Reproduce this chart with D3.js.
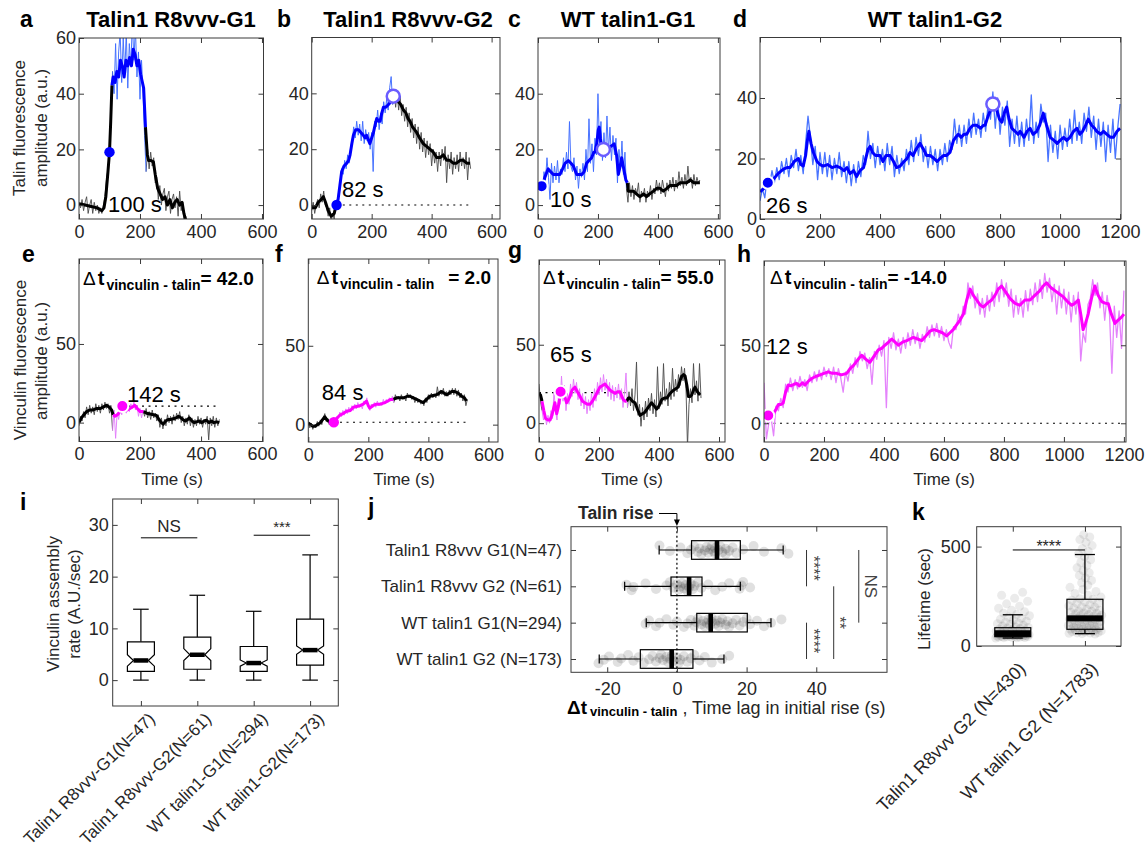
<!DOCTYPE html>
<html><head><meta charset="utf-8">
<script src="https://cdn.jsdelivr.net/npm/d3@7"></script>
<style>body{margin:0;background:#fff}</style>
</head><body><svg id="fig" width="1147" height="851"></svg>
<script>
// ================= DATA =================
const titles = ["Talin1 R8vvv-G1", "Talin1 R8vvv-G2", "WT talin1-G1", "WT talin1-G2"];
const timeTicks600 = [0, 200, 400, 600];
const timeTicks1200 = [0, 200, 400, 600, 800, 1000, 1200];
const talinTicksA = [0, 20, 40, 60];
const talinTicks = [0, 20, 40];
const vincTicks = [0, 50];
const deltaVals = [42.0, 2.0, 55.0, -14.0];

// raw traces (uniform steps), smooth traces as [time, value]
const aRaw = [1,-1,2,-2,1,3,-3,0,2,-3,1,-2,0,-3,-1,-3,0,3,9,13,20,33,48,40,58,38,55,62,44,60,47,62,42,58,50,66,52,64,46,55,38,52,40,25,12,20,13,19,14,17,8,10,2,7,0,4,6,-2,3,5,-3,2,4,-1,3,-4,5,-2,1,-6,-4,-7,-5,-7,-6,-5,-7,-6,-5,-7];
const aSmooth = [[0,0.5],[20,0],[40,-0.5],[60,-1],[75,-2],[82,-1],[88,3],[95,12],[100,19],[104,30],[108,43],[112,46],[118,44],[124,48],[130,46],[136,52],[142,50],[148,46],[154,52],[160,50],[166,53],[172,50],[178,56],[184,54],[190,50],[196,52],[202,47],[208,44],[212,42],[218,28],[224,18],[228,16],[236,16],[244,15.5],[250,11],[258,6],[266,4],[274,2],[282,3],[290,0],[298,2],[306,-1],[314,1],[322,2],[330,0],[338,1],[344,-3],[350,-5.5],[360,-6.5],[400,-7]];
const bRaw = [-2,1,-3,0,2,-1,4,1,5,0,-1,-4,-1,-6,-3,-5,1,0,5,6,13,11,16,13,18,15,21,23,28,24,30,25,29,23,30,22,27,23,26,20,26,12,30,28,34,27,33,29,37,33,38,34,42,46,36,41,35,40,34,39,32,36,30,35,28,33,26,31,24,29,22,28,20,26,19,24,17,23,18,22,14,20,15,19,12,19,14,20,16,21,8,18,13,19,11,17,13,18,12,19,14,17,13,19,9,17,13];
const bSmooth = [[0,-1],[12,-1],[22,1],[32,2],[39,3],[46,1],[55,-2],[65,-4],[75,-3],[82,0],[88,2],[94,7],[100,12],[108,14],[117,15],[123,16],[128,18],[134,22],[139,25],[147,27],[156,27],[164,26],[172,25],[178,24],[183,25],[190,23],[194,22],[200,24],[206,26],[212,29],[217,31],[223,30],[228,30],[234,33],[239,35],[247,35],[256,36],[264,37],[272,39],[280,38],[289,37],[297,36],[306,34],[314,33],[321,31],[328,30],[336,28],[343,27],[350,26],[360,24],[372,22],[383,21],[394,20],[405,19],[417,17],[428,17],[439,18],[450,16],[461,16],[472,15],[483,15],[495,16],[506,16],[517,15],[528,15]];
const cRaw = [8,6,9,5,12,9,17,10,2,15,8,14,9,16,8,13,11,17,12,19,13,30,14,12,17,9,14,6,13,10,15,9,20,12,31,15,22,12,24,18,40,22,30,16,26,17,32,19,28,16,25,18,24,8,20,13,23,11,19,6,1,8,3,7,2,6,4,8,1,5,3,6,1,5,3,7,2,6,4,9,5,8,4,9,6,3,8,5,9,6,10,5,9,6,12,7,10,6,11,7,14,8,10,6,11,7,10,8,9];
const cSmooth = [[2,6],[10,7],[18,8],[23,10],[30,12],[34,13],[42,12],[51,11],[62,11],[73,11],[82,13],[90,15],[101,16],[110,15],[118,14],[129,11],[137,11],[146,11],[154,12],[162,15],[170,16],[179,17],[186,19],[190,19],[196,22],[201,27],[204,28],[208,24],[212,21],[218,20],[223,20],[229,20],[234,20],[242,21],[254,22],[262,18],[268,11],[274,14],[279,17],[286,13],[293,9],[298,8],[301,5],[308,5],[318,5],[328,4],[340,3],[352,4],[362,3],[372,4],[385,5],[396,6],[407,6],[418,5],[430,6],[440,7],[451,7],[462,7],[474,8],[485,8],[496,8],[508,9],[520,8],[530,8],[540,8]];
const dRaw = [6,10,7,14,11,16,12,17,13,19,15,20,14,21,17,23,16,21,15,25,34,27,18,24,13,22,15,22,14,21,13,20,15,22,14,19,12,19,11,18,12,19,14,21,18,29,20,25,17,24,18,23,16,25,18,24,14,21,15,20,16,23,18,26,19,27,21,28,19,24,17,24,18,23,16,23,18,25,19,26,23,33,25,31,24,31,25,33,27,35,28,33,27,35,29,38,33,42,30,40,28,37,31,39,24,33,25,34,24,32,24,33,26,41,25,32,27,38,32,35,19,31,22,29,20,31,23,30,24,33,25,36,26,32,25,35,29,37,27,34,23,33,24,32,19,31,22,33,20,30,38];
const dSmooth = [[0,9],[12,10],[26,12],[44,13],[60,15],[78,16.5],[90,17],[100,17],[114,19],[128,20],[136,18],[144,17.5],[152,21],[158,26],[163,29],[170,25],[178,22],[190,19],[200,18],[211,17.5],[225,18],[240,17],[255,17.5],[267,17],[280,16],[290,17],[300,15],[312,16],[322,14],[333,16],[345,17],[355,21],[360,23],[367,24],[375,22],[385,21],[400,21],[410,19],[420,21],[433,21],[445,19],[455,17],[467,17.5],[480,19],[490,20],[500,22],[510,21],[520,23],[533,25],[545,23],[555,21],[567,21],[580,20],[590,19],[600,20],[612,21],[622,21],[633,22],[645,26],[652,27],[661,28],[670,27],[680,28],[689,28],[700,30],[710,31],[722,31],[735,30],[745,31],[750,31],[760,34],[772,37],[780,38],[789,36],[798,33],[806,32],[814,35],[822,37],[830,33],[839,30],[850,29],[860,28],[867,29],[880,27],[890,29],[900,30],[910,28],[922,29],[932,31],[944,35],[955,31],[967,27],[980,26],[990,25],[1000,26],[1012,27],[1022,26],[1033,27],[1045,29],[1056,30],[1066,28],[1075,29],[1085,31],[1094,33],[1105,31],[1115,30],[1122,29],[1135,28],[1145,29],[1156,28],[1168,27],[1178,27],[1190,29],[1200,30]];
const eRaw = [-2,4,1,7,3,10,5,11,6,10,5,12,7,11,6,12,8,13,9,12,6,10,-5,8,-10,6,2,9,5,12,8,6,11,7,12,9,13,8,11,4,9,3,8,4,9,3,7,2,8,3,6,1,5,-3,3,-4,2,-2,5,0,4,-1,5,1,6,2,7,0,4,-2,3,-1,5,-2,3,-3,2,-2,4,-1,3,-3,2,-1,4,-11,3,-2,4,-3,3,-2,2];
const eSmooth = [[0,0],[8,3],[16,5],[25,7],[35,8],[45,8],[58,9],[70,9],[80,10],[90,11],[98,10],[107,8],[112,5],[118,4],[126,5],[134,7],[142,10.5],[150,10],[158,8],[167,9],[175,10],[183,11],[191,9],[200,7],[211,7],[222,6],[233,5.5],[244,5],[254,4.5],[262,2],[270,0],[276,-1],[284,1],[292,2],[300,2],[309,2.5],[318,3],[326,4],[331,3.5],[340,2],[348,1],[353,1.5],[362,3],[370,1],[378,0],[385,0.5],[394,1],[402,0],[410,1],[418,1.5],[426,0],[434,1],[442,0],[451,0.5],[460,0]];
const fRaw = [2,-2,1,-3,0,-2,2,-1,3,0,4,7,2,4,0,2,1,2,3,5,4,8,5,9,6,10,7,11,8,12,9,13,10,14,11,13,10,15,13,17,11,9,13,11,14,11,15,12,14,12,16,13,16,14,17,15,18,14,19,16,18,15,19,16,18,15,20,17,19,16,18,14,17,14,16,13,15,12,17,14,19,16,20,17,19,17,24,18,22,19,23,18,21,18,22,19,23,19,23,18,22,17,20,15,19,12,16];
const fSmooth = [[0,1],[8,0],[15,-1],[22,-1],[30,0],[39,1],[47,3],[55,5],[62,3],[68,2],[75,1.5],[85,1.5],[95,4],[105,6],[116,7],[128,8.5],[140,9],[150,11],[161,11.5],[172,12],[183,13],[194,15],[200,12],[205,10.5],[215,12],[227,13],[240,13],[255,14],[265,15],[275,16],[283,16],[294,17],[305,17],[318,17],[330,18],[339,18],[350,17],[361,16],[372,15],[383,14],[394,16],[405,18],[416,18.5],[427,19],[436,20],[444,21],[452,20],[461,19],[470,20],[478,21],[488,21],[499,20],[511,18],[520,17],[527,15]];
const gRaw = [25,14,8,2,6,-1,5,0,8,3,20,8,2,18,12,30,14,24,8,19,12,25,17,28,19,26,15,22,11,19,9,17,6,15,8,19,10,22,14,26,18,29,20,31,21,28,17,26,15,24,14,23,16,25,15,22,10,19,32,10,20,11,22,8,18,39,5,12,-2,10,2,14,4,16,8,19,6,15,4,36,9,20,12,38,14,22,11,26,15,35,17,28,20,31,24,36,27,35,22,-15,12,22,13,38,18,27,14,38,16];
const gSmooth = [[0,19],[5,18],[10,14],[16,8],[22,3],[30,2],[37,2],[43,5],[48,9],[53,13],[59,6],[64,10],[70,17],[76,20],[84,18],[92,13],[98,15],[103,17],[110,21],[120,23],[128,20],[137,17],[145,14],[153,13],[162,12],[170,12],[178,14],[187,17],[195,20],[203,23],[212,24],[220,25],[228,23],[237,21],[245,20],[253,19],[262,20],[270,20],[276,17],[281,15],[287,14],[292,14],[298,16],[303,16],[311,14],[320,13],[328,9],[337,5],[345,6],[353,7],[364,10],[375,13],[384,11],[392,9],[400,11],[409,15],[418,16],[426,16],[437,19],[448,21],[456,22],[464,23],[470,27],[476,30],[482,31],[487,30],[493,24],[498,17],[504,17],[509,18],[515,21],[520,23],[528,20],[537,18]];
const hRaw = [26,-10,0,3,-8,11,8,16,10,25,20,29,21,28,22,30,23,28,21,31,26,33,27,34,28,36,30,35,28,36,26,35,29,20,33,27,38,32,42,36,46,40,45,35,42,25,46,41,50,43,53,10,55,48,58,47,54,45,55,48,58,50,60,51,58,48,57,52,62,55,63,56,64,55,62,53,60,52,48,62,60,70,63,75,70,90,80,88,74,83,70,80,68,82,72,84,75,90,78,92,81,90,75,86,68,82,70,80,68,85,72,86,76,90,78,92,80,96,84,93,78,89,70,88,74,86,70,84,65,82,70,84,40,58,52,76,80,92,82,90,74,84,66,82,70,32,75,55,72,48,85];
const hSmooth = [[0,8],[6,4],[14,5],[22,5],[31,6],[40,9],[48,12],[56,12],[64,13],[72,20],[81,24.5],[90,24],[100,25],[109,25.5],[118,24],[128,26],[137,24.5],[148,27],[159,28.7],[172,30],[187,31],[200,32],[214,33],[228,32],[242,32],[258,31],[276,32],[287,35],[298,37],[310,40],[318,42],[326,43.6],[340,41],[353,39],[367,43],[381,47],[392,48],[403,50],[415,52],[426,54],[437,52],[448,50],[462,52],[476,53],[487,54],[498,55],[512,54],[526,53],[540,56],[553,59],[567,60],[581,59],[595,58],[609,56],[620,58],[631,60],[642,63],[653,66],[665,70],[676,79],[687,86],[698,82],[709,79],[720,76],[731,74.5],[745,77],[759,79],[770,82],[781,86],[792,88],[806,84],[820,80],[836,77],[853,75.6],[870,79],[887,79],[903,82],[920,85],[931,88],[942,90],[956,87],[970,85],[984,83],[998,81],[1012,78],[1026,75.6],[1037,77],[1048,79],[1056,70],[1064,60],[1072,64],[1081,70],[1092,80],[1103,88],[1114,82],[1126,78],[1137,77],[1148,76.6],[1158,70],[1170,64],[1180,66],[1192,68],[1200,70]];

// colored segment [start,end], onset marker, peak marker, onset label, baseline ref line [t0,t1,level]
const segs = {a:[108,220], b:[82,272], c:[0,298], d:[0,1210], e:[108,212], f:[84,285], g:[10,295], h:[0,1210]};
const onsets = {a:[100,19], b:[83,0], c:[12,6.8], d:[26,12], e:[142,10.5], f:[85,1.5], g:[72,20], h:[14,5]};
const peaks = {b:[272,39], c:[218,20], d:[776,38]};
const onsetLabels = {a:[95,-2.5,"100 s"], b:[101,3,"82 s"], c:[40,-0.7,"10 s"], d:[20,2,"26 s"], e:[157,12.9,"142 s"], f:[45,15.5,"84 s"], g:[37,39.3,"65 s"], h:[7,44.7,"12 s"]};
const refLines = {b:[82,530,0], e:[100,460,10.5], f:[84,530,1.5], g:[0,300,19.5], h:[10,1200,0]};

// panel i (notched boxplot)
const iCats = ["Talin1 R8vvv-G1(N=47)", "Talin1 R8vvv-G2(N=61)", "WT talin1-G1(N=294)", "WT talin1-G2(N=173)"];
const iLo = [0, 0, 0, 0];
const iQ1 = [1.7, 2.1, 1.7, 2.9];
const iMed = [3.8, 4.9, 3.3, 5.8];
const iQ3 = [7.4, 8.3, 6.5, 11.8];
const iHi = [13.7, 16.4, 13.3, 24.2];
const iNotchLo = [2.7, 3.8, 2.7, 5.0];
const iNotchHi = [4.9, 6.1, 3.9, 6.6];
const iTicks = [0, 10, 20, 30];
const iSig = [{a:1, b:2, v:27.5, text:"NS"}, {a:3, b:4, v:28, text:"***"}];

// panel j (horizontal boxplot with points)
const jCats = ["Talin1 R8vvv G1(N=47)", "Talin1 R8vvv G2 (N=61)", "WT talin1 G1(N=294)", "WT talin1 G2 (N=173)"];
const jLo = [-5.1, -15.0, -8.8, -22.3];
const jQ1 = [4.2, -1.7, 5.7, -10.5];
const jMed = [11.5, 3.5, 9.7, -1.5];
const jQ3 = [18.2, 7.2, 20.2, 4.6];
const jHi = [30.5, 18.2, 27.0, 13.5];
const jPts = [
  [-5,-2,1,3,4,5,6,6.5,7,8,8.5,9,9.5,10,10.5,11,11,12,12.5,13,14,14,15,16,17,19,22,25,30,32],
  [-14.5,-13,-12.5,-9,-6,-3,-2,-1,0,0.5,1,1.5,2,2.5,3,3.5,4,4.5,5,6,7,9,11,13,15,18,18.5,19,21],
  [-9,-8,-6,-5,-3,-1,0,2,3,4,5,5.5,6,7,7.5,8,8.5,9,9.5,10,10,11,11.5,12,12.5,13,14,14.5,15,16,17,18,19,20,21,23,25,27,30],
  [-22.5,-21,-19.5,-17,-16,-14,-12.5,-11,-9.5,-8,-7,-6,-5,-4.5,-4,-3,-2.5,-2,-1.5,-1,0,0.5,1,2,3,4,5,6.5,8,10,13,15]
];
const jTicks = [-20, 0, 20, 40];
const jSig = [{x:37.2, r0:1, r1:2, lx:40.4, text:"****"}, {x:37.2, r0:3, r1:4, lx:40.4, text:"****"}, {x:45, r0:2, r1:4, lx:47.8, text:"**"}, {x:52.2, r0:1, r1:3, lx:55.6, text:"NS"}];

// panel k (lifetime boxplot with points)
const kCats = ["Talin1 R8vvv G2 (N=430)", "WT talin1 G2 (N=1783)"];
const kLo = [40, 62];
const kQ1 = [47, 84];
const kMed = [64, 139];
const kQ3 = [92, 235];
const kHi = [157, 460];
const kPts = [
  [40,41,42,43,44,45,45,46,47,48,48,49,50,50,51,52,53,54,55,55,56,57,58,59,60,61,62,63,64,65,66,68,70,72,74,76,78,80,82,85,88,90,93,96,100,104,108,112,116,120,125,130,135,140,146,152,158,165,172,180,190,200,212,225,240,255,270],
  [60,62,64,65,66,68,70,72,74,75,76,78,80,82,85,85,88,90,92,95,95,98,100,103,105,106,110,113,115,116,120,123,125,126,130,133,135,136,140,143,145,146,150,154,155,158,162,165,166,170,175,175,180,185,190,195,196,202,208,215,215,222,230,235,238,246,255,264,274,284,295,306,318,330,342,355,368,380,393,406,420,434,448,462,476,490,505,520,535,548,560]
];
const kTicks = [0, 500];
const kSig = {a:1, b:2, v:483, text:"****"};

// ================= DRAWING =================
const FONT = '"Liberation Sans", Arial, Helvetica, sans-serif';
const INK = "#262626", FRAME = "#3a3a3a";
const COLORS = {
  blue: {raw: "#3f6dff", smooth: "#0000ff", dot: "#0000ff"},
  magenta: {raw: "#e37cfb", smooth: "#ff00ff", dot: "#ff00ff"}
};
const svg = d3.select("#fig").style("font-family", FONT);
const jit = i => ((i * 0.6180339887) % 1) - 0.5;
const numFmt = d => String(d);

function drawFrame(g, x, y, o) {
  const [xl, xr] = x.range();
  const yr = y.range(), yb = Math.max(...yr), yt = Math.min(...yr);
  const TK = 5;
  const ax = g.append("g");
  ax.append("g").attr("transform", `translate(0,${yb})`)
    .call(d3.axisBottom(x).tickValues(o.xTicks).tickSizeInner(-TK).tickSizeOuter(0).tickPadding(o.xPad ?? 6).tickFormat(o.xFmt || numFmt));
  ax.append("g").attr("transform", `translate(0,${yt})`)
    .call(d3.axisTop(x).tickValues(o.xTicks).tickSizeInner(-TK).tickSizeOuter(0).tickFormat(""));
  ax.append("g").attr("transform", `translate(${xl},0)`)
    .call(d3.axisLeft(y).tickValues(o.yTicks).tickSizeInner(-TK).tickSizeOuter(0).tickPadding(o.yPad ?? 3).tickFormat(o.yFmt || numFmt));
  ax.append("g").attr("transform", `translate(${xr},0)`)
    .call(d3.axisRight(y).tickValues(o.yTicks).tickSizeInner(-TK).tickSizeOuter(0).tickFormat(""));
  ax.selectAll(".domain").remove();
  ax.selectAll(".tick line").attr("stroke", FRAME);
  ax.selectAll(".tick text").attr("fill", INK).style("font-size", (o.fs || 18) + "px").style("font-family", FONT);
  g.append("rect").attr("x", xl).attr("y", yt).attr("width", xr - xl).attr("height", yb - yt)
    .attr("fill", "none").attr("stroke", FRAME).attr("stroke-width", 1);
}

function split(pts, seg) {
  const [a, b] = seg;
  const mid = pts.filter(d => d[0] >= a && d[0] <= b);
  const pre = pts.filter(d => d[0] < a);
  const post = pts.filter(d => d[0] > b);
  if (pre.length && mid.length) pre.push(mid[0]);
  if (post.length && mid.length) post.unshift(mid[mid.length - 1]);
  return {pre, mid, post};
}

const panelDefs = [
  {k:"a", box:[79,38,184.5,181], xDom:[0,605], yDom:[-5,60], yT:talinTicksA, xT:timeTicks600, raw:aRaw, step:5, sm:aSmooth, col:"blue", ring:false, rw:1},
  {k:"b", box:[311.7,37.5,188.3,181.5], xDom:[0,628], yDom:[-5,60], yT:talinTicks, xT:timeTicks600, raw:bRaw, step:5, sm:bSmooth, col:"blue", ring:false, rw:1},
  {k:"c", box:[538,38,182,181], xDom:[0,607], yDom:[-5,60], yT:talinTicks, xT:timeTicks600, raw:cRaw, step:5, sm:cSmooth, col:"blue", ring:true, rw:1},
  {k:"d", box:[760,37.5,361,181.5], xDom:[0,1203], yDom:[0,60], yT:talinTicks, xT:timeTicks1200, raw:dRaw, step:8, sm:dSmooth, col:"blue", ring:true, rw:1.3},
  {k:"e", box:[79,259,184,182.5], xDom:[0,603], yDom:[-12,104], yT:vincTicks, xT:timeTicks600, raw:eRaw, step:5, sm:eSmooth, col:"magenta", ring:true, rw:1, delta:0, dpos:[83,285], gap:0},
  {k:"f", box:[308.3,259,189.7,183], xDom:[0,632], yDom:[-11,105], yT:vincTicks, xT:timeTicks600, raw:fRaw, step:5, sm:fSmooth, col:"magenta", ring:false, rw:1, delta:1, dpos:[316.7,283.5], gap:14},
  {k:"g", box:[539,260,186,182], xDom:[0,620], yDom:[-12,104], yT:vincTicks, xT:timeTicks600, raw:gRaw, step:5, sm:gSmooth, col:"magenta", ring:true, rw:1, delta:2, dpos:[543,284], gap:0},
  {k:"h", box:[764,261,362,181], xDom:[0,1207], yDom:[-12,104], yT:vincTicks, xT:timeTicks1200, raw:hRaw, step:8, sm:hSmooth, col:"magenta", ring:true, rw:1.3, delta:3, dpos:[770,283.5], gap:0}
];

panelDefs.forEach((p, idx) => {
  const [bx, by, bw, bh] = p.box;
  const x = d3.scaleLinear().domain(p.xDom).range([bx, bx + bw]);
  const y = d3.scaleLinear().domain(p.yDom).range([by + bh, by]);
  const g = svg.append("g");
  const cid = "clip" + idx;
  svg.append("clipPath").attr("id", cid).append("rect").attr("x", bx).attr("y", by).attr("width", bw).attr("height", bh);
  const plot = g.append("g").attr("clip-path", `url(#${cid})`);
  const line = d3.line().x(d => x(d[0])).y(d => y(d[1]));
  const col = COLORS[p.col];
  const raw = p.raw.map((v, i) => [i * p.step, v]);
  const rs = split(raw, segs[p.k]), ss = split(p.sm, segs[p.k]);
  const rl = refLines[p.k];
  if (rl) plot.append("line").attr("x1", x(rl[0])).attr("x2", x(rl[1])).attr("y1", y(rl[2])).attr("y2", y(rl[2]))
    .attr("stroke", "#000").attr("stroke-width", 1.1).attr("stroke-dasharray", "2,4.5");
  const draw = (pts, stroke, w, op) => { if (pts.length > 1) plot.append("path").datum(pts).attr("d", line)
    .attr("fill", "none").attr("stroke", stroke).attr("stroke-width", w).attr("stroke-opacity", op).attr("stroke-linejoin", "round"); };
  draw(rs.pre, "#4a4a4a", p.rw, 0.9); draw(rs.post, "#4a4a4a", p.rw, 0.9);
  draw(rs.mid, col.raw, p.rw, 0.95);
  draw(ss.pre, "#000", 3, 1); draw(ss.post, "#000", 3, 1);
  draw(ss.mid, col.smooth, 3, 1);
  const on = onsets[p.k];
  plot.append("circle").attr("cx", x(on[0])).attr("cy", y(on[1])).attr("r", p.ring ? 6 : 5.2)
    .attr("fill", col.dot).attr("stroke", p.ring ? "#fff" : "none").attr("stroke-width", 2);
  const pk = peaks[p.k];
  if (pk) plot.append("circle").attr("cx", x(pk[0])).attr("cy", y(pk[1])).attr("r", 6.5)
    .attr("fill", "#fff").attr("stroke", "#6a5cff").attr("stroke-width", 2.5);
  const lb = onsetLabels[p.k];
  g.append("text").attr("x", x(lb[0])).attr("y", y(lb[1])).text(lb[2]).style("font-size", "22px").attr("fill", "#000");
  drawFrame(g, x, y, {xTicks: p.xT, yTicks: p.yT, xPad: 6});
  if (p.delta !== undefined) {
    const t = g.append("text").attr("x", p.dpos[0]).attr("y", p.dpos[1]).attr("fill", "#000");
    t.append("tspan").text("Δ").style("font-size", "19px");
    t.append("tspan").attr("dx", 2).text("t").style("font-size", "20px").style("font-weight", "bold");
    t.append("tspan").attr("dy", 5).attr("dx", 2).text("vinculin - talin").style("font-size", "14px").style("font-weight", "bold");
    t.append("tspan").attr("dy", -5).attr("dx", p.gap).text("= " + deltaVals[p.delta].toFixed(1)).style("font-size", "19px").style("font-weight", "bold");
  }
});

// titles and letters
const titleX = [171, 408, 628, 935];
titles.forEach((t, i) => svg.append("text").attr("x", titleX[i]).attr("y", 27).attr("text-anchor", "middle")
  .style("font-size", "22px").style("font-weight", "bold").attr("fill", "#000").text(t));
const letters = [["a",20,27],["b",277,27],["c",508,27],["d",733,27],["e",22,262],["f",275,262],["g",508,258],["h",737,262],["i",20,510],["j",368,515],["k",912,520]];
letters.forEach(l => svg.append("text").attr("x", l[1]).attr("y", l[2]).text(l[0])
  .style("font-size", "23px").style("font-weight", "bold").attr("fill", "#000"));

function vText(x, y, str, size, color) {
  svg.append("text").attr("transform", `translate(${x},${y}) rotate(-90)`).attr("text-anchor", "middle")
    .style("font-size", size + "px").attr("fill", color || INK).text(str);
}
vText(25, 128, "Talin fluorescence", 17);
vText(47, 128, "amplitude (a.u.)", 17);
vText(26, 360, "Vinculin fluorescence", 17);
vText(47, 361, "amplitude (a.u.)", 17);
[172, 404, 632, 944].forEach(cx => svg.append("text").attr("x", cx).attr("y", 485).attr("text-anchor", "middle")
  .style("font-size", "17px").attr("fill", INK).text("Time (s)"));

// ---------- panel i ----------
{
  const x = d3.scaleLinear().domain([0.5, 4.5]).range([112.7, 338.3]);
  const y = d3.scaleLinear().domain([-5, 35]).range([706, 499]);
  const g = svg.append("g");
  const w = 13.5, wn = 7.4, cw = 7.8;
  iCats.forEach((c, i) => {
    const cx = x(i + 1);
    g.append("line").attr("x1", cx).attr("x2", cx).attr("y1", y(iQ3[i])).attr("y2", y(iHi[i])).attr("stroke", "#000").attr("stroke-width", 1.2);
    g.append("line").attr("x1", cx).attr("x2", cx).attr("y1", y(iQ1[i])).attr("y2", y(iLo[i])).attr("stroke", "#000").attr("stroke-width", 1.2);
    [iHi[i], iLo[i]].forEach(v => g.append("line").attr("x1", cx - cw).attr("x2", cx + cw).attr("y1", y(v)).attr("y2", y(v)).attr("stroke", "#000").attr("stroke-width", 1.2));
    const pts = [[cx - w, y(iQ3[i])], [cx + w, y(iQ3[i])], [cx + w, y(iNotchHi[i])], [cx + wn, y(iMed[i])], [cx + w, y(iNotchLo[i])],
      [cx + w, y(iQ1[i])], [cx - w, y(iQ1[i])], [cx - w, y(iNotchLo[i])], [cx - wn, y(iMed[i])], [cx - w, y(iNotchHi[i])]];
    g.append("path").attr("d", d3.line()(pts) + "Z").attr("fill", "#fff").attr("stroke", "#000").attr("stroke-width", 1.2);
    g.append("line").attr("x1", cx - wn).attr("x2", cx + wn).attr("y1", y(iMed[i])).attr("y2", y(iMed[i])).attr("stroke", "#000").attr("stroke-width", 4.5);
    g.append("text").attr("transform", `translate(${cx + 15},720) rotate(-45)`).attr("text-anchor", "end")
      .style("font-size", "17px").attr("fill", INK).text(c);
  });
  iSig.forEach(s => {
    g.append("line").attr("x1", x(s.a)).attr("x2", x(s.b)).attr("y1", y(s.v)).attr("y2", y(s.v)).attr("stroke", "#000").attr("stroke-width", 1);
    g.append("text").attr("x", (x(s.a) + x(s.b)) / 2).attr("y", y(s.v) - (s.text === "NS" ? 6 : 3)).attr("text-anchor", "middle")
      .style("font-size", s.text === "NS" ? "17px" : "15px").attr("fill", INK).text(s.text);
  });
  drawFrame(g, x, y, {xTicks: [1, 2, 3, 4], yTicks: iTicks, xFmt: () => "", yPad: 4});
  vText(59, 604, "Vinculin assembly", 17);
  vText(80, 604, "rate (A.U./sec)", 17);
}

// ---------- panel j ----------
{
  const x = d3.scaleLinear().domain([-30.4, 60.3]).range([571, 887]);
  const y = d3.scaleLinear().domain([0.359, 4.366]).range([526.7, 672.3]);
  const g = svg.append("g");
  jPts.forEach((arr, r) => arr.forEach((v, i) => g.append("circle").attr("cx", x(v)).attr("cy", y(r + 1) + jit(i + r * 7) * 9)
    .attr("r", 5).attr("fill", "#000").attr("fill-opacity", 0.12)));
  g.append("line").attr("x1", x(0)).attr("x2", x(0)).attr("y1", 526.7).attr("y2", 672.3).attr("stroke", "#000").attr("stroke-width", 1.2).attr("stroke-dasharray", "2,2.5");
  const bh = 9.3, ch = 4.5;
  jCats.forEach((c, i) => {
    const cy = y(i + 1);
    g.append("line").attr("x1", x(jLo[i])).attr("x2", x(jQ1[i])).attr("y1", cy).attr("y2", cy).attr("stroke", "#000").attr("stroke-width", 1.2);
    g.append("line").attr("x1", x(jQ3[i])).attr("x2", x(jHi[i])).attr("y1", cy).attr("y2", cy).attr("stroke", "#000").attr("stroke-width", 1.2);
    [jLo[i], jHi[i]].forEach(v => g.append("line").attr("x1", x(v)).attr("x2", x(v)).attr("y1", cy - ch).attr("y2", cy + ch).attr("stroke", "#000").attr("stroke-width", 1.2));
    g.append("rect").attr("x", x(jQ1[i])).attr("y", cy - bh).attr("width", x(jQ3[i]) - x(jQ1[i])).attr("height", 2 * bh)
      .attr("fill", "none").attr("stroke", "#000").attr("stroke-width", 1.2);
    g.append("rect").attr("x", x(jMed[i]) - 2.3).attr("y", cy - bh).attr("width", 4.6).attr("height", 2 * bh).attr("fill", "#000");
  });
  jSig.forEach(s => {
    g.append("line").attr("x1", x(s.x)).attr("x2", x(s.x)).attr("y1", y(s.r0)).attr("y2", y(s.r1)).attr("stroke", "#333").attr("stroke-width", 1);
    const my = (y(s.r0) + y(s.r1)) / 2;
    g.append("text").attr("transform", `translate(${x(s.lx)},${my}) rotate(90)`).attr("text-anchor", "middle")
      .attr("dy", s.text === "NS" ? "0.35em" : "0.6em").style("font-size", s.text === "NS" ? "17px" : "16px").attr("fill", "#444").text(s.text);
  });
  drawFrame(g, x, y, {xTicks: jTicks, yTicks: [1, 2, 3, 4], xPad: 10, yPad: 9, yFmt: d => jCats[d - 1], fs: 18});
  g.selectAll("text").filter(function() { return jCats.includes(this.textContent); }).style("font-size", "17px");
  // Talin rise arrow
  svg.append("text").attr("x", 578).attr("y", 519).style("font-size", "17.5px").style("font-weight", "bold").attr("fill", INK).text("Talin rise");
  svg.append("path").attr("d", `M659,513.5 H${x(0)} V523`).attr("fill", "none").attr("stroke", "#000").attr("stroke-width", 1);
  svg.append("path").attr("d", `M${x(0) - 3},519.5 L${x(0) + 3},519.5 L${x(0)},526 Z`).attr("fill", "#000");
  // x label
  const t = svg.append("text").attr("x", 567).attr("y", 714).attr("fill", "#000");
  t.append("tspan").text("Δt").style("font-size", "19px").style("font-weight", "bold");
  t.append("tspan").attr("dx", 3).attr("dy", 2).text("vinculin - talin").style("font-size", "13px").style("font-weight", "bold");
  t.append("tspan").attr("dy", -2).text(" , Time lag in initial rise (s)").style("font-size", "18px").attr("fill", INK);
}

// ---------- panel k ----------
{
  const x = d3.scaleLinear().domain([0.5, 2.5]).range([976.7, 1121]);
  const y = d3.scaleLinear().domain([0, 600]).range([646, 526.7]);
  const g = svg.append("g");
  kPts.forEach((arr, c) => arr.forEach((v, i) => {
    const spread = v > 300 ? 16 : 34;
    g.append("circle").attr("cx", x(c + 1) + jit(i + c * 11) * spread).attr("cy", y(v)).attr("r", 4.5)
      .attr("fill", "#000").attr("fill-opacity", 0.08);
  }));
  const bw = 18, cw = 10;
  kCats.forEach((c, i) => {
    const cx = x(i + 1);
    g.append("line").attr("x1", cx).attr("x2", cx).attr("y1", y(kQ3[i])).attr("y2", y(kHi[i])).attr("stroke", "#000").attr("stroke-width", 1.3);
    g.append("line").attr("x1", cx).attr("x2", cx).attr("y1", y(kQ1[i])).attr("y2", y(kLo[i])).attr("stroke", "#000").attr("stroke-width", 1.3);
    [kHi[i], kLo[i]].forEach(v => g.append("line").attr("x1", cx - cw).attr("x2", cx + cw).attr("y1", y(v)).attr("y2", y(v)).attr("stroke", "#000").attr("stroke-width", 1.3));
    g.append("rect").attr("x", cx - bw).attr("y", y(kQ3[i])).attr("width", 2 * bw).attr("height", y(kQ1[i]) - y(kQ3[i]))
      .attr("fill", "none").attr("stroke", "#000").attr("stroke-width", 1.2);
    g.append("rect").attr("x", cx - bw).attr("y", y(kMed[i]) - 3).attr("width", 2 * bw).attr("height", 6).attr("fill", "#000");
    g.append("text").attr("transform", `translate(${cx + 14},670) rotate(-45)`).attr("text-anchor", "end")
      .style("font-size", "18px").attr("fill", INK).text(c);
  });
  g.append("line").attr("x1", x(kSig.a)).attr("x2", x(kSig.b)).attr("y1", y(kSig.v)).attr("y2", y(kSig.v)).attr("stroke", "#000").attr("stroke-width", 1);
  g.append("text").attr("x", (x(kSig.a) + x(kSig.b)) / 2).attr("y", y(kSig.v) + 2).attr("text-anchor", "middle")
    .style("font-size", "16px").attr("fill", INK).text(kSig.text);
  drawFrame(g, x, y, {xTicks: [1, 2], yTicks: kTicks, xFmt: () => "", yPad: 6});
  vText(930, 599, "Lifetime (sec)", 17);
}
</script></body></html>
